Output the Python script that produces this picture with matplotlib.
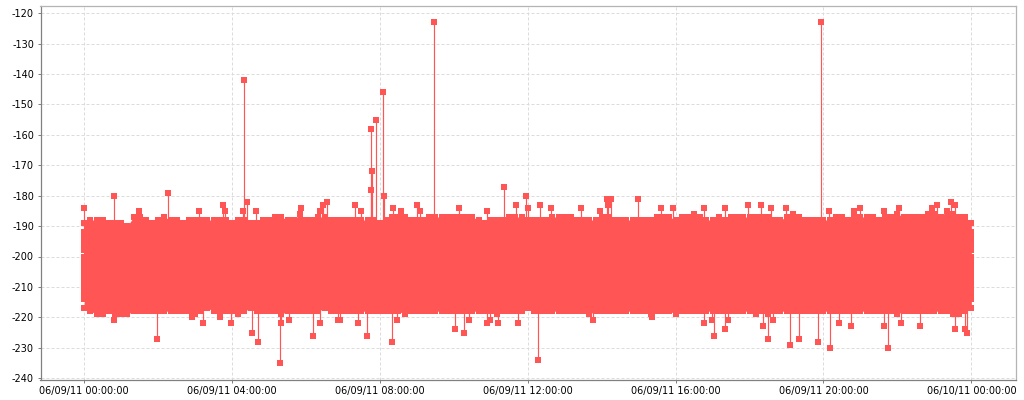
import matplotlib
matplotlib.use("Agg")
import matplotlib.pyplot as plt
import numpy as np

RED = "#FF5555"

tick_hours = [0, 4, 8, 12, 16, 20, 24]
tick_labels = ["06/09/11 00:00:00", "06/09/11 04:00:00", "06/09/11 08:00:00", "06/09/11 12:00:00",
               "06/09/11 16:00:00", "06/09/11 20:00:00", "06/10/11 00:00:00"]
y_ticks = [-120, -130, -140, -150, -160, -170, -180, -190, -200, -210, -220, -230, -240]
y_labels = ["-120", "-130", "-140", "-150", "-160", "-170", "-180", "-190", "-200", "-210", "-220", "-230", "-240"]

# band envelope, one reading every 10 minutes from 00:00 to 24:00
band_top = [
    -189, -188, -188, -188, -189, -189, -189, -190, -187, -187, -188, -189,
    -188, -187, -188, -188, -189, -188, -188, -188, -188, -188, -188, -188,
    -189, -188, -188, -189, -189, -188, -188, -187, -187, -188, -188, -186,
    -188, -188, -187, -187, -188, -188, -188, -188, -188, -188, -188, -188,
    -189, -188, -187, -187, -187, -188, -188, -188, -187, -187, -187, -187,
    -187, -187, -187, -187, -188, -189, -188, -188, -188, -187, -187, -187,
    -188, -188, -188, -188, -187, -187, -187, -187, -188, -188, -188, -188,
    -187, -187, -188, -188, -188, -188, -188, -188, -188, -187, -187, -187,
    -188, -187, -187, -186, -187, -188, -188, -187, -188, -187, -187, -187,
    -187, -187, -187, -187, -188, -188, -187, -186, -187, -188, -188, -188,
    -188, -188, -187, -187, -188, -187, -187, -187, -187, -188, -187, -187,
    -186, -187, -187, -187, -187, -186, -186, -187, -185, -186, -187, -187,
    -189,
]
band_bottom = [
    -217, -218, -219, -219, -218, -219, -219, -219, -218, -218, -218, -218,
    -218, -218, -218, -218, -218, -218, -219, -218, -217, -218, -219, -218,
    -218, -219, -218, -217, -218, -218, -218, -218, -219, -218, -218, -218,
    -218, -218, -218, -217, -218, -218, -218, -218, -218, -218, -218, -218,
    -218, -218, -218, -218, -219, -218, -218, -218, -218, -218, -218, -218,
    -218, -218, -218, -218, -218, -218, -218, -219, -218, -218, -218, -218,
    -217, -218, -218, -218, -218, -218, -218, -218, -218, -218, -219, -218,
    -218, -218, -218, -218, -218, -218, -218, -218, -219, -218, -218, -218,
    -219, -218, -218, -218, -218, -218, -218, -218, -218, -218, -218, -218,
    -218, -219, -218, -219, -218, -218, -218, -218, -218, -218, -218, -218,
    -218, -218, -218, -218, -218, -218, -218, -218, -218, -218, -218, -218,
    -219, -218, -218, -218, -218, -218, -218, -218, -218, -219, -219, -218,
    -217,
]
band_hours = np.arange(len(band_top)) / 6

# readings on the first and last columns, which give the band its end caps
edge_values = [-192, -194, -196, -198, -200, -202, -204, -206, -208, -210, -212, -214]

spike_hours = [
    0.00, 0.80, 1.48, 2.27, 3.11, 3.76, 3.80, 4.30, 4.31, 4.41, 4.64, 5.86, 6.39, 6.46, 6.58,
    7.32, 7.50, 7.75, 7.76, 7.78, 7.90, 8.07, 8.12, 8.35, 8.58, 9.00, 9.08, 9.47, 10.14, 10.90,
    11.35, 11.67, 11.94, 12.01, 12.34, 12.63, 13.43, 13.96, 14.13, 14.17, 14.24, 14.97, 15.60,
    15.92, 16.78, 17.33, 17.96, 18.32, 18.57, 18.99, 19.93, 20.14, 20.82, 20.99, 21.64, 22.04,
    22.94, 23.08, 23.45, 23.57,
]
spike_values = [
    -184, -180, -185, -179, -185, -183, -185, -185, -142, -182, -185, -184, -185, -183, -182,
    -183, -185, -158, -178, -172, -155, -146, -180, -184, -185, -183, -185, -123, -184, -185,
    -177, -183, -180, -184, -183, -184, -184, -185, -181, -183, -181, -181, -184,
    -184, -184, -184, -183, -183, -184, -184, -123, -185, -185, -184, -185, -184,
    -184, -183, -182, -183,
]
dip_hours = [
    0.80, 1.98, 2.92, 3.21, 3.66, 3.97, 4.55, 4.71, 5.30, 5.32, 5.55, 6.18, 6.39, 6.87, 6.92,
    7.41, 7.65, 8.33, 8.47, 10.04, 10.27, 10.40, 10.89, 10.97, 11.20, 11.73, 12.27, 13.77, 15.37,
    16.78, 16.97, 17.04, 17.33, 17.42, 18.36, 18.51, 18.64, 19.10, 19.34, 19.86, 20.18, 20.41,
    20.74, 21.64, 21.75, 22.11, 22.60, 23.57, 23.84, 23.87,
]
dip_values = [
    -221, -227, -220, -222, -220, -222, -225, -228, -235, -222, -221, -226, -222, -221, -221,
    -222, -226, -228, -221, -224, -225, -221, -222, -221, -222, -222, -234, -221, -220,
    -222, -221, -226, -224, -221, -223, -227, -221, -229, -227, -228, -230, -222,
    -223, -223, -230, -222, -223, -224, -224, -225,
]

W, H = 1024, 400
fig = plt.figure(figsize=(W / 100, H / 100), dpi=100, facecolor="white")
L, R, T, B = 40.5, 1016.3, 6.3, 379.7
ax = fig.add_axes([L / W, 1 - B / H, (R - L) / W, (B - T) / H])

px_per_hour = 36.96
ax.set_xlim((L - 84.3) / px_per_hour, (R - 84.3) / px_per_hour)
ax.set_ylim(-120 - (B - 13.3) / 3.04, -120 + (13.3 - T) / 3.04)

ax.grid(True, color="#DCDCDC", linestyle=(0, (3, 2)), linewidth=0.72)
ax.set_axisbelow(True)

ms = 4.5
lw = 0.85
band_top_arr = np.array(band_top)
band_bottom_arr = np.array(band_bottom)
ax.fill_between(band_hours, band_bottom_arr, band_top_arr, color=RED, linewidth=0, zorder=3)
ax.plot(band_hours, band_top_arr, ls="", marker="s", ms=ms, mec=RED, mfc=RED, mew=0, zorder=3)
ax.plot(band_hours, band_bottom_arr, ls="", marker="s", ms=ms, mec=RED, mfc=RED, mew=0, zorder=3)
for h in (tick_hours[0], tick_hours[-1]):
    ax.plot([h] * len(edge_values), edge_values, ls="", marker="s", ms=ms, mec=RED, mfc=RED, mew=0, zorder=3)

ax.vlines(spike_hours, [-200] * len(spike_hours), spike_values, color=RED, linewidth=lw, zorder=3)
ax.vlines(dip_hours, [-200] * len(dip_hours), dip_values, color=RED, linewidth=lw, zorder=3)
ax.plot(spike_hours, spike_values, ls="", marker="s", ms=ms, mec=RED, mfc=RED, mew=0, zorder=4)
ax.plot(dip_hours, dip_values, ls="", marker="s", ms=ms, mec=RED, mfc=RED, mew=0, zorder=4)

ax.set_xticks(tick_hours)
ax.set_xticklabels(tick_labels)
ax.set_yticks(y_ticks)
ax.set_yticklabels(y_labels)
ax.tick_params(axis="both", length=2.2, width=0.72, color="#808080", labelsize=7.0, labelcolor="#000000", pad=2.5)

ax.spines["left"].set_color("#808080")
ax.spines["bottom"].set_color("#808080")
ax.spines["top"].set_color("#B4B4B4")
ax.spines["right"].set_color("#B4B4B4")
for s in ax.spines.values():
    s.set_linewidth(0.9)

fig.savefig("out.png", dpi=100)
